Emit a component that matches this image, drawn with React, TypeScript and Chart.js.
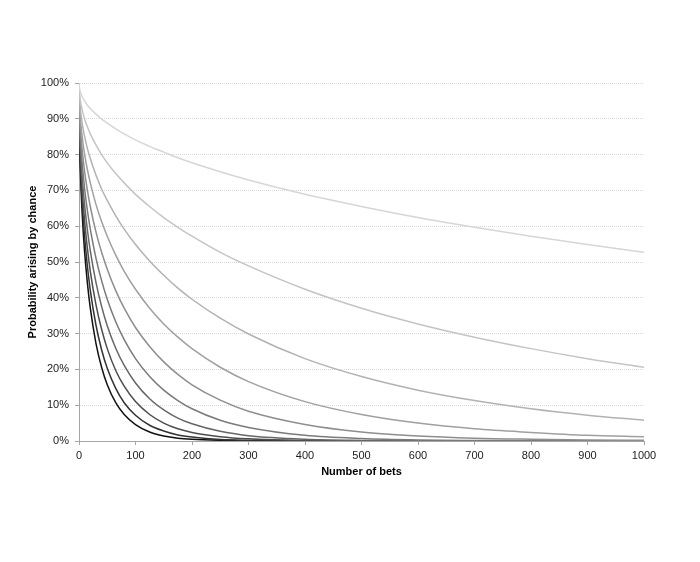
import React, { useEffect, useRef } from "react";
import { Chart, registerables } from "chart.js";

Chart.register(...registerables);

const BETS = [0, 1, 3, 6, 10, 15, 20, 30, 40, 50, 65, 80, 100, 125, 150, 175, 200, 250, 300, 400, 500, 600, 700, 800, 900, 1000];

const S1 = [100, 98.4, 97.2, 96.1, 95.0, 93.8, 92.9, 91.3, 89.9, 88.8, 87.2, 85.8, 84.1, 82.3, 80.7, 79.1, 77.7, 75.2, 72.9, 68.9, 65.5, 62.4, 59.7, 57.2, 54.9, 52.7];
const S2 = [100, 96.8, 94.5, 92.2, 89.9, 87.7, 85.8, 82.7, 80.0, 77.7, 74.7, 72.1, 68.9, 65.5, 62.4, 59.7, 57.2, 52.7, 48.9, 42.4, 37.1, 32.7, 29.0, 25.8, 23.0, 20.6];
const S3 = [100, 95.2, 91.7, 88.3, 85.0, 81.6, 78.9, 74.3, 70.4, 67.2, 62.9, 59.2, 54.9, 50.3, 46.3, 42.7, 39.6, 34.3, 29.9, 23.0, 18.0, 14.2, 11.3, 9.0, 7.2, 5.8];
const S4 = [100, 93.6, 89.0, 84.5, 80.0, 75.7, 72.1, 66.1, 61.3, 57.2, 51.9, 47.4, 42.4, 37.1, 32.7, 29.0, 25.8, 20.6, 16.6, 11.0, 7.4, 5.0, 3.4, 2.4, 1.6, 1.2];
const S5 = [100, 92.0, 86.3, 80.7, 75.2, 69.9, 65.5, 58.4, 52.7, 48.0, 42.0, 37.1, 31.7, 26.4, 22.1, 18.6, 15.7, 11.4, 8.3, 4.6, 2.5, 1.4, 0.8, 0.5, 0.3, 0.2];
const S6 = [100, 90.4, 83.5, 76.9, 70.4, 64.2, 59.2, 51.1, 44.8, 39.6, 33.3, 28.3, 23.0, 18.0, 14.2, 11.3, 9.0, 5.8, 3.8, 1.6, 0.7, 0.3, 0.15, 0.07, 0.03, 0.01];
const S7 = [100, 88.9, 80.8, 73.2, 65.8, 58.8, 53.1, 44.3, 37.6, 32.2, 25.9, 21.1, 16.2, 11.8, 8.7, 6.4, 4.8, 2.7, 1.5, 0.5, 0.17, 0.06, 0.02, 0.01, 0, 0];
const S8 = [100, 87.3, 78.2, 69.5, 61.3, 53.6, 47.4, 38.1, 31.2, 25.8, 19.7, 15.3, 11.0, 7.4, 5.0, 3.4, 2.4, 1.2, 0.6, 0.14, 0.03, 0.01, 0, 0, 0, 0];
const S9 = [100, 85.7, 75.5, 65.9, 56.9, 48.6, 42.1, 32.4, 25.5, 20.3, 14.7, 10.7, 7.2, 4.4, 2.8, 1.7, 1.1, 0.4, 0.2, 0.03, 0.01, 0, 0, 0, 0, 0];
const S10 = [100, 84.1, 72.9, 62.4, 52.7, 43.9, 37.1, 27.3, 20.6, 15.7, 10.7, 7.4, 4.6, 2.5, 1.4, 0.8, 0.5, 0.2, 0.05, 0.01, 0, 0, 0, 0, 0, 0];

const SERIES = [S1, S2, S3, S4, S5, S6, S7, S8, S9, S10];
const COLORS = ["#d6d6d6", "#c4c4c4", "#b2b2b2", "#a0a0a0", "#8e8e8e", "#7a7a7a", "#666666", "#4d4d4d", "#333333", "#111111"];

const X_TITLE = "Number of bets";
const Y_TITLE = "Probability arising by chance";

export default function App() {
  const ref = useRef<HTMLCanvasElement | null>(null);

  useEffect(() => {
    if (!ref.current) return;
    const font = { family: "'Liberation Sans', Arial, sans-serif", size: 11 };
    const chart = new Chart(ref.current, {
      type: "line",
      data: {
        datasets: SERIES.map((s, i) => ({
          label: "Series " + (i + 1),
          data: s.map((v, j) => ({ x: BETS[j], y: v })),
          borderColor: COLORS[i],
          backgroundColor: COLORS[i],
          borderWidth: 1.5,
          pointRadius: 0,
          fill: false,
          cubicInterpolationMode: "monotone" as const,
        })),
      },
      options: {
        animation: false,
        responsive: false,
        maintainAspectRatio: false,
        layout: { padding: { left: 22, right: 56, top: 83, bottom: 83 } },
        plugins: { legend: { display: false }, tooltip: { enabled: false } },
        scales: {
          x: {
            type: "linear",
            min: 0,
            max: 1000,
            afterFit: (scale: any) => {
              scale.height = 38;
            },
            ticks: {
              stepSize: 100,
              color: "#222",
              font,
              padding: 4,
              maxRotation: 0,
              callback: (v: any) => String(v),
            },
            grid: { drawOnChartArea: false, drawTicks: true, tickLength: 4, tickColor: "#a6a6a6", color: "#a6a6a6" },
            border: { color: "#a6a6a6", width: 1 },
            title: {
              display: true,
              text: X_TITLE,
              color: "#000",
              font: { ...font, weight: "bold" },
              padding: { top: 0, bottom: 0 },
            },
          },
          y: {
            type: "linear",
            min: 0,
            max: 100,
            afterFit: (scale: any) => {
              scale.width = 57;
            },
            ticks: {
              stepSize: 10,
              color: "#222",
              font,
              padding: 6,
              callback: (v: any) => v + "%",
            },
            grid: { color: "#d9d9d9", lineWidth: 1, drawTicks: true, tickLength: 4, tickColor: "#a6a6a6" },
            border: { color: "#a6a6a6", width: 1, dash: [1, 1] },
            title: {
              display: true,
              text: Y_TITLE,
              color: "#000",
              font: { ...font, weight: "bold" },
              padding: { top: 4, bottom: 0 },
            },
          },
        },
      },
    });
    return () => chart.destroy();
  }, []);

  return (
    <div style={{ position: "fixed", left: 0, top: 0, width: 700, height: 562, background: "#fff" }}>
      <canvas ref={ref} width={700} height={562} style={{ width: 700, height: 562, display: "block" }} />
    </div>
  );
}
